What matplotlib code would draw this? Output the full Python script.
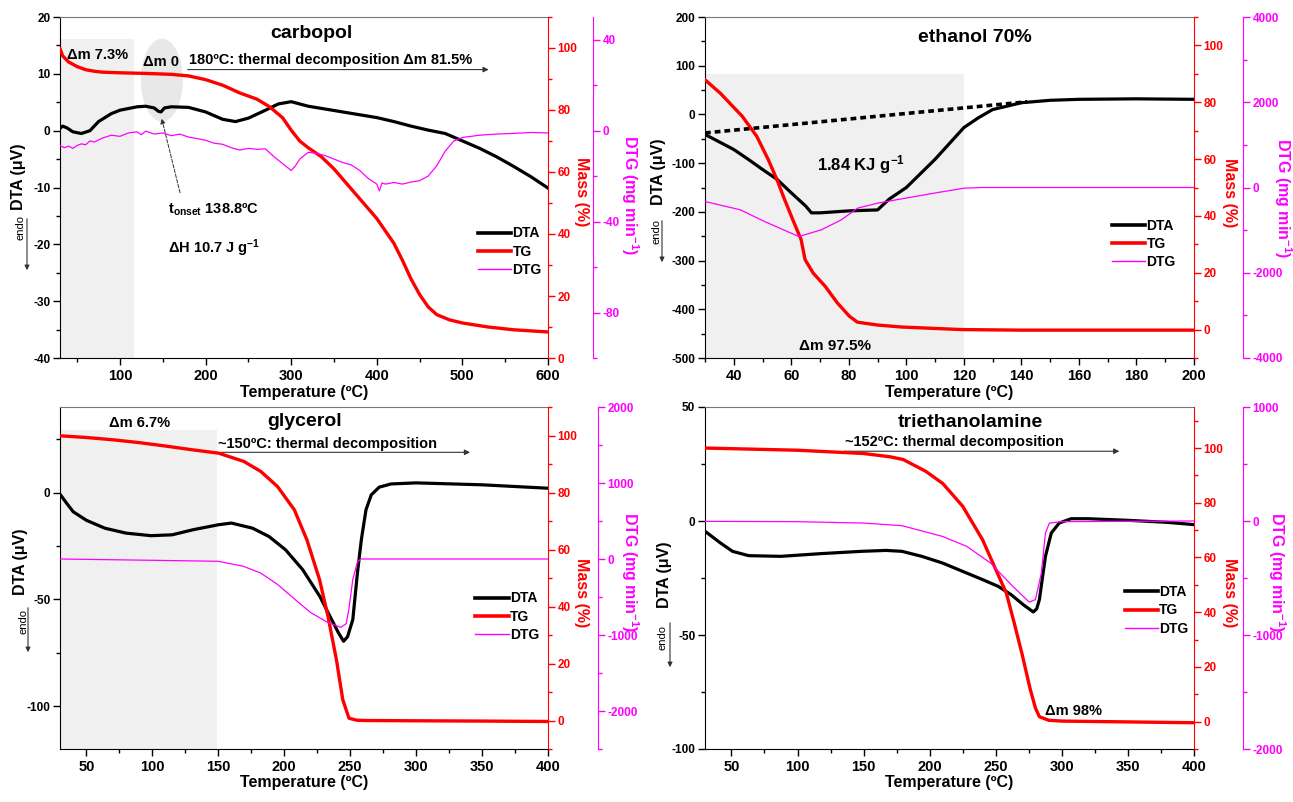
import numpy as np
import matplotlib
matplotlib.use("Agg")
import matplotlib.pyplot as plt
from matplotlib.lines import Line2D
from matplotlib.patches import Rectangle, Ellipse, FancyArrowPatch
from matplotlib.ticker import MultipleLocator, FixedLocator

plt.rcParams['font.family'] = ['Liberation Sans', 'DejaVu Sans']
plt.rcParams['font.weight'] = 'bold'
plt.rcParams['axes.unicode_minus'] = False
plt.rcParams['mathtext.fontset'] = 'custom'
plt.rcParams['mathtext.rm'] = 'Liberation Sans:bold'
plt.rcParams['mathtext.it'] = 'Liberation Sans:bold'
plt.rcParams['mathtext.default'] = 'rm'

RED, MAG, GRAY = '#ff0000', '#ff00ff', '#f0f0f0'
W, H = 1293, 802

# ---------------- carbopol ----------------
carb_dta_T = [30, 33, 38, 45, 55, 65, 75, 90, 100, 110, 120, 130, 140, 145, 148, 152, 160, 180,
              200, 220, 235, 250, 270, 285, 300, 320, 340, 360, 380, 400, 420, 440, 460, 480,
              500, 520, 540, 560, 580, 600]
carb_dta = [0.4, 0.8, 0.5, -0.2, -0.5, 0.0, 1.6, 3.0, 3.6, 3.9, 4.2, 4.3, 4.0, 3.4, 3.3, 4.0, 4.2, 4.1,
            3.3, 2.0, 1.6, 2.2, 3.6, 4.7, 5.1, 4.3, 3.8, 3.3, 2.8, 2.3, 1.6, 0.8, 0.1, -0.5,
            -1.8, -3.1, -4.6, -6.3, -8.1, -10.1]
carb_tg_T = [30, 33, 40, 50, 60, 70, 80, 100, 130, 160, 180, 200, 220, 240, 260, 275, 290, 300, 310,
             320, 335, 350, 375, 400, 420, 430, 440, 450, 460, 470, 485, 500, 530, 560, 600]
carb_tg = [99.8, 97.5, 95.5, 94, 93, 92.5, 92.2, 92.0, 91.8, 91.5, 91, 89.8, 88, 85.5, 83.5, 81, 77.5,
           73.5, 70, 67.8, 65, 61, 53, 45, 37, 31.5, 25.5, 20.5, 16.5, 14, 12.3, 11.3, 10, 9.1, 8.4]
carb_dtg_T = [30, 35, 40, 45, 50, 55, 60, 65, 70, 80, 90, 100, 110, 120, 125, 130, 140, 150, 160, 170,
              180, 190, 200, 210, 220, 230, 240, 250, 260, 270, 280, 290, 300, 305, 310, 320, 330,
              340, 350, 360, 370, 380, 390, 400, 403, 406, 410, 420, 430, 440, 450, 460, 470, 480,
              490, 500, 520, 540, 560, 580, 600]
carb_dtg = [-6.5, -7.5, -6.8, -7.8, -6.5, -5.8, -6.2, -4.5, -5.0, -3.2, -2.0, -2.5, -1.0, -0.5, -1.8,
            -0.2, -1.5, -1.0, -2.2, -1.5, -2.8, -3.5, -4.2, -5.5, -6.0, -7.5, -8.5, -7.8, -8.2, -8.0,
            -11.5, -14.5, -17.5, -15.5, -12.5, -9.5, -10.0, -11.0, -12.5, -14.0, -15.0, -17.5, -21.0,
            -23.5, -26.5, -23.0, -23.5, -22.8, -23.5, -22.6, -22.0, -20.0, -15.5, -9.0, -4.5, -3.0,
            -2.0, -1.5, -1.2, -0.8, -1.0]

# ---------------- ethanol 70% ----------------
eth_dta_T = [30, 40, 45, 50, 55, 60, 65, 67, 70, 80, 90, 94, 100, 110, 120, 125, 130, 140, 150, 160,
             180, 200]
eth_dta = [-41, -72, -92, -113, -133, -161, -188, -202, -202, -198, -196, -174, -150, -92, -27, -7,
           10, 24, 29, 31, 32, 31]
eth_base_T = [30, 142]
eth_base = [-38, 26]
eth_tg_T = [30, 35.3, 43, 48, 52, 55, 57.7, 60.5, 63.4, 64.8, 67.6, 71.8, 76, 80.2, 83, 90, 98.4,
            110, 119.4, 140, 200]
eth_tg = [87.9, 83.2, 75, 68, 59.8, 52.8, 45.7, 38.7, 31.7, 24.6, 19.9, 15.2, 9.4, 4.7, 2.6, 1.6,
          0.9, 0.4, 0, -0.2, -0.2]
eth_dtg_T = [30, 42.3, 50.7, 62.6, 70.4, 77.4, 83, 90, 98.4, 109.6, 120.1, 126.4, 200]
eth_dtg = [-329, -524, -798, -1150, -994, -759, -485, -368, -266, -133, -16, 0, 0]

# ---------------- glycerol ----------------
gly_dta_T = [30, 35, 40, 50, 64, 80, 99, 115, 131, 150, 160, 176, 188.5, 201, 214, 227, 236, 241,
             245, 248, 252, 255.5, 258.5, 262, 266, 272, 281, 300, 350, 400]
gly_dta = [-0.8, -5, -9, -13, -16.7, -19, -20.2, -19.8, -17.4, -15.1, -14.3, -16.7, -20.6, -26.8,
           -36.1, -48.6, -59.5, -65.5, -69.6, -67.5, -59.5, -37.7, -22, -8.1, -1.1, 2.5, 4, 4.5,
           3.6, 2]
gly_tg_T = [30, 50, 70, 90, 110, 130, 150.3, 169.4, 182.2, 194.9, 207.7, 217.2, 226.8, 233.2, 239.6,
            244.4, 249.1, 255, 262, 300, 350, 400]
gly_tg = [99.9, 99.3, 98.5, 97.5, 96.3, 95, 93.8, 90.9, 87.4, 82.1, 73.9, 63.4, 49.4, 36.5, 21.3,
          7.3, 0.8, 0.1, 0, -0.1, -0.2, -0.35]
gly_dtg_T = [30, 100, 150, 169, 182, 195, 208, 220, 233, 243, 247, 249, 252, 255.5, 258, 400]
gly_dtg = [0, -17, -30, -96, -183, -335, -530, -704, -835, -900, -850, -661, -270, -40, 0, 0]

# ---------------- triethanolamine ----------------
tea_dta_T = [30, 41.6, 50.8, 63, 87.4, 118, 148.5, 167, 179, 194, 209.6, 225, 240, 252, 261.6,
             270.8, 278.4, 281, 283, 287.6, 292, 298, 307, 320, 350, 380, 400]
tea_dta = [-4.5, -9.6, -13.3, -15.2, -15.5, -14.3, -13.3, -12.9, -13.3, -15.5, -18.4, -22.1, -25.7,
           -28.7, -32.3, -36.7, -39.9, -38.5, -34.5, -15.5, -5.3, -0.9, 1, 1, 0.3, -0.6, -1.6]
tea_tg_T = [30, 100, 150, 170, 180, 197, 210, 225, 240, 249, 258, 264, 270, 276, 280, 283, 290, 300,
            350, 400]
tea_tg = [100, 99.2, 98, 96.8, 95.8, 91.5, 87, 78.7, 66.5, 56.7, 47, 36, 24.5, 12, 5, 1.8, 0.5, 0.2,
          -0.1, -0.4]
tea_dtg_T = [30, 100, 150, 179, 209.6, 228, 246, 261.6, 270.8, 275.3, 280, 284.5, 287.6, 290.6, 300,
             400]
tea_dtg = [-3, -6, -18, -41, -135, -222, -368, -558, -661, -711, -690, -456, -105, -18, -6, 0]

fig = plt.figure(figsize=(W / 100, H / 100), dpi=100)


def fx(x):
    return x / W


def fy(y):
    return 1 - y / H


def panel(box, xlim, xmaj, xmin, dlim, dmaj, dmin, mlim, glim, gmaj, gmin, goff):
    l, t, r, b = box
    ax = fig.add_axes([fx(l), fy(b), (r - l) / W, (b - t) / H])
    ax2 = ax.twinx()
    ax3 = ax.twinx()
    ax.set_xlim(*xlim); ax.set_ylim(*dlim)
    ax2.set_ylim(*mlim); ax3.set_ylim(*glim)
    ax.xaxis.set_major_locator(FixedLocator(xmaj))
    ax.xaxis.set_minor_locator(MultipleLocator(xmin))
    ax.yaxis.set_major_locator(FixedLocator(dmaj))
    ax.yaxis.set_minor_locator(MultipleLocator(dmin))
    ax2.yaxis.set_major_locator(FixedLocator([0, 20, 40, 60, 80, 100]))
    ax2.yaxis.set_minor_locator(MultipleLocator(10))
    ax3.yaxis.set_major_locator(FixedLocator(gmaj))
    ax3.yaxis.set_minor_locator(MultipleLocator(gmin))
    ax3.spines['right'].set_position(('axes', goff))
    ax.spines['right'].set_visible(False)
    ax.spines['top'].set_color('#777777')
    for a in (ax2, ax3):
        for s in ('left', 'top', 'bottom'):
            a.spines[s].set_visible(False)
    ax2.spines['right'].set_color(RED)
    ax3.spines['right'].set_color(MAG)
    ax.tick_params(axis='x', which='major', length=5, width=1, labelsize=10.5, pad=3)
    ax.tick_params(axis='x', which='minor', length=3, width=1)
    ax.tick_params(axis='y', which='major', length=5, width=1, labelsize=8.5, pad=2)
    ax.tick_params(axis='y', which='minor', length=3, width=1)
    ax2.tick_params(which='major', colors=RED, length=5, width=1, labelsize=8.5, pad=2)
    ax2.tick_params(which='minor', colors=RED, length=3, width=1)
    ax3.tick_params(which='major', colors=MAG, length=5, width=1, labelsize=8.5, pad=2)
    ax3.tick_params(which='minor', colors=MAG, length=3, width=1)
    ax.set_xlabel('Temperature (ºC)', fontsize=11.5, fontweight='bold', labelpad=1)
    return ax, ax2, ax3


def side_labels(dta_xy, endo_xy, arr, mass_xy, dtg_xy):
    fig.text(fx(dta_xy[0]), fy(dta_xy[1]), 'DTA (μV)', rotation=90, ha='center', va='center',
             fontsize=11.5, fontweight='bold')
    fig.text(fx(endo_xy[0]), fy(endo_xy[1]), 'endo', rotation=90, ha='center', va='center',
             fontsize=8, fontweight='normal')
    fig.add_artist(FancyArrowPatch(
        (fx(arr[0]), fy(arr[1])), (fx(arr[0]), fy(arr[2])), transform=fig.transFigure,
        arrowstyle='-|>', mutation_scale=7, lw=0.8, color='#333333'))
    fig.text(fx(mass_xy[0]), fy(mass_xy[1]), 'Mass (%)', rotation=270, ha='center', va='center',
             fontsize=11.5, fontweight='bold', color=RED)
    fig.text(fx(dtg_xy[0]), fy(dtg_xy[1]), 'DTG (mg min$^{-1}$)', rotation=270, ha='center',
             va='center', fontsize=11.5, fontweight='bold', color=MAG)


def curves(ax, ax2, ax3, dT, d, mT, m, gT, g):
    ax.plot(dT, d, color='black', lw=2.3, zorder=3)
    ax2.plot(mT, m, color=RED, lw=2.4)
    ax3.plot(gT, g, color=MAG, lw=0.9)


def legend(ax, x0, ymid):
    h = [Line2D([], [], color='black', lw=2.6), Line2D([], [], color=RED, lw=2.6),
         Line2D([], [], color=MAG, lw=1.0)]
    ax.legend(h, ['DTA', 'TG', 'DTG'], loc='center left', bbox_to_anchor=(x0, ymid), frameon=False,
              handlelength=2.4, handletextpad=0.1, labelspacing=0.3, borderpad=0.2,
              prop={'weight': 'bold', 'size': 10})


def harrow(ax, x0, x1, y):
    ax.annotate('', xy=(x1, y), xytext=(x0, y),
                arrowprops=dict(arrowstyle='-|>', color='#333333', lw=0.8, mutation_scale=8))


# ---- carbopol ----
a, b, c = panel((60, 17, 548, 358), (30, 600), [100, 200, 300, 400, 500, 600], 50,
                (-40, 20), [-40, -30, -20, -10, 0, 10, 20], 5, (0, 110),
                (-100, 50), [-80, -40, 0, 40], 20, 1.092)
a.add_patch(Rectangle((30, -40), 86, 56.2, color=GRAY, lw=0, zorder=0))
a.add_patch(Ellipse((149, 8.9), 49, 14.6, color='#e8e8e8', lw=0, zorder=0))
curves(a, b, c, carb_dta_T, carb_dta, carb_tg_T, carb_tg, carb_dtg_T, carb_dtg)
a.text(38, 13.3, 'Δm 7.3%', fontsize=10.5, va='center')
a.text(127, 12.1, 'Δm 0', fontsize=10.5, va='center')
a.text(181, 12.5, '180ºC: thermal decomposition Δm 81.5%', fontsize=10.5, va='center')
harrow(a, 176, 534, 10.75)
a.text(156, -14, 't$_{onset}$ 138.8ºC', fontsize=10.5, va='center')
a.text(156, -20.7, 'ΔH 10.7 J g$^{-1}$', fontsize=10.5, va='center')
a.annotate('', xy=(148, 2.6), xytext=(171, -11.4),
           arrowprops=dict(arrowstyle='-|>', color='#333333', lw=0.7, ls='--', mutation_scale=7))
fig.text(fx(311), fy(33), 'carbopol', ha='center', va='center', fontsize=14, fontweight='bold')
legend(c, 0.836, 0.312)
side_labels((19, 177), (21, 227), (27, 216, 273), (581, 192), (630, 195))

# ---- ethanol 70% ----
a, b, c = panel((705, 17, 1194, 358), (30, 200), [40, 60, 80, 100, 120, 140, 160, 180, 200], 10,
                (-500, 200), [-500, -400, -300, -200, -100, 0, 100, 200], 50, (-10, 110),
                (-4000, 4000), [-4000, -2000, 0, 2000, 4000], 1000, 1.10)
a.add_patch(Rectangle((30, -500), 90, 582, color=GRAY, lw=0, zorder=0))
a.plot(eth_base_T, eth_base, color='black', lw=2.6, dashes=(1.6, 1.1), zorder=3)
curves(a, b, c, eth_dta_T, eth_dta, eth_tg_T, eth_tg, eth_dtg_T, eth_dtg)
a.text(69, -103, '1.84 KJ g$^{-1}$', fontsize=12, va='center')
a.text(62.7, -475, 'Δm 97.5%', fontsize=11, va='center')
fig.text(fx(975), fy(37), 'ethanol 70%', ha='center', va='center', fontsize=14, fontweight='bold')
legend(c, 0.812, 0.334)
side_labels((658, 172), (657, 232), (662, 218, 265), (1229, 193), (1283, 198))

# ---- glycerol ----
a, b, c = panel((60, 407, 548, 749), (30, 400), [50, 100, 150, 200, 250, 300, 350, 400], 25,
                (-120, 40), [-100, -50, 0], 25, (-10, 110),
                (-2500, 2000), [-2000, -1000, 0, 1000, 2000], 500, 1.1025)
a.add_patch(Rectangle((30, -120), 119, 149.3, color=GRAY, lw=0, zorder=0))
curves(a, b, c, gly_dta_T, gly_dta, gly_tg_T, gly_tg, gly_dtg_T, gly_dtg)
a.text(90, 32.7, 'Δm 6.7%', fontsize=10.5, va='center', ha='center')
a.text(150, 22.6, '~150ºC: thermal decomposition', fontsize=10.5, va='center')
harrow(a, 150, 343, 18.8)
fig.text(fx(305), fy(421), 'glycerol', ha='center', va='center', fontsize=14, fontweight='bold')
legend(c, 0.831, 0.387)
side_labels((21, 562), (23, 622), (28, 605, 655), (581, 593), (630, 572))

# ---- triethanolamine ----
a, b, c = panel((705, 407, 1194, 749), (30, 400), [50, 100, 150, 200, 250, 300, 350, 400], 25,
                (-100, 50), [-100, -50, 0, 50], 25, (-10, 115),
                (-2000, 1000), [-2000, -1000, 0, 1000], 500, 1.10)
curves(a, b, c, tea_dta_T, tea_dta, tea_tg_T, tea_tg, tea_dtg_T, tea_dtg)
a.text(136, 34.5, '~152ºC: thermal decomposition', fontsize=10.5, va='center')
harrow(a, 133, 345.6, 30.6)
a.text(287.6, -83.2, 'Δm 98%', fontsize=10.5, va='center')
fig.text(fx(970), fy(423), 'triethanolamine', ha='center', va='center', fontsize=14,
         fontweight='bold')
legend(c, 0.838, 0.405)
side_labels((665, 575), (663, 638), (670, 620, 670), (1230, 593), (1277, 572))

fig.savefig('out.png', dpi=100)
